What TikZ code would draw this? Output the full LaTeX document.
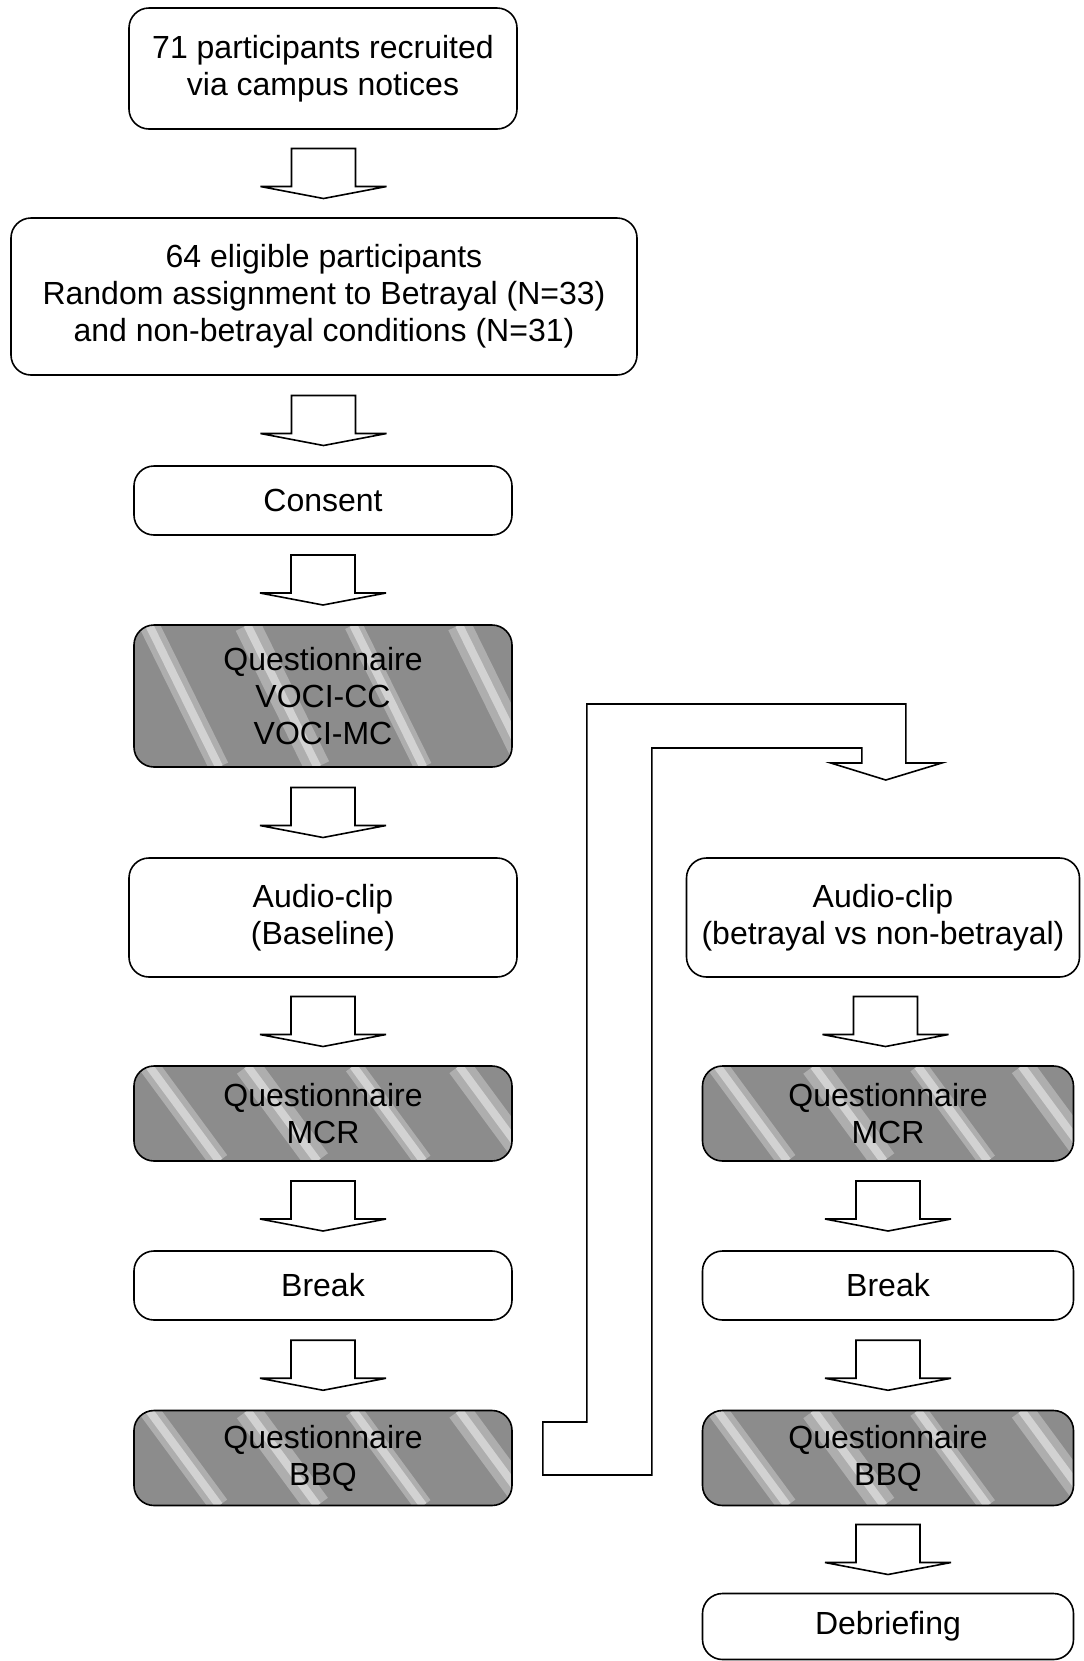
\documentclass[tikz,border=0pt]{standalone}
\usepackage{fontspec}
\setmainfont{Liberation Sans}
\usetikzlibrary{calc}
\begin{document}
\begin{tikzpicture}[x=0.5pt, y=-0.5pt,
	box/.style={draw, line width=0.8pt, rounded corners=10pt, align=center, inner sep=0pt,
		font=\fontsize{16pt}{18.5pt}\selectfont},
	qbox/.style={box, fill=black!45, path picture={
		\foreach \f/\w in {0.04/10pt,0.3/13pt,0.58/9pt,0.86/12pt} {
			\draw[white, opacity=.3, line width=\w]
				($(path picture bounding box.north west)!\f!(path picture bounding box.north east)$) --
				($(path picture bounding box.south west)!\f!(path picture bounding box.south east)+(70,0)$);
			\draw[white, opacity=.45, line width=4pt]
				($(path picture bounding box.north west)!\f!(path picture bounding box.north east)$) --
				($(path picture bounding box.south west)!\f!(path picture bounding box.south east)+(70,0)$);}}},
	arrowline/.style={draw, fill=white, line width=0.8pt, line join=miter},
	fatarrow/.pic={\draw[arrowline] (-32,-25) -- (32,-25) -- (32,13) -- (63,13) -- (0,25) -- (-63,13) -- (-32,13) -- cycle;}]
	\useasboundingbox (0,0) rectangle (1083,1661);

	% left column
	\node[box, minimum width=194pt, minimum height=60.5pt] (recruit) at (323,68.5) {71 participants recruited\\via campus notices};
	\node[box, minimum width=313pt, minimum height=78.5pt] (eligible) at (324,296.5) {64 eligible participants\\Random assignment to Betrayal (N=33)\\and non-betrayal conditions (N=31)};
	\node[box, minimum width=189pt, minimum height=34.5pt] (consent) at (323,500.5) {Consent};
	\node[qbox, minimum width=189pt, minimum height=71pt] (voci) at (323,696) {Questionnaire\\VOCI-CC\\VOCI-MC};
	\node[box, minimum width=194pt, minimum height=59.5pt] (audiobase) at (323,917.5) {Audio-clip\\(Baseline)};
	\node[qbox, minimum width=189pt, minimum height=47.5pt] (mcrbase) at (323,1113.5) {Questionnaire\\MCR};
	\node[box, minimum width=189pt, minimum height=34.5pt] (breakbase) at (323,1285.5) {Break};
	\node[qbox, minimum width=189pt, minimum height=47.5pt] (bbqbase) at (323,1458) {Questionnaire\\BBQ};

	% right column
	\node[box, minimum width=196.5pt, minimum height=59.5pt] (audiobet) at (883,917.5) {Audio-clip\\(betrayal vs non-betrayal)};
	\node[qbox, minimum width=185.5pt, minimum height=47.5pt] (mcrbet) at (888,1113.5) {Questionnaire\\MCR};
	\node[box, minimum width=185.5pt, minimum height=34.5pt] (breakbet) at (888,1285.5) {Break};
	\node[qbox, minimum width=185.5pt, minimum height=47.5pt] (bbqbet) at (888,1458) {Questionnaire\\BBQ};
	\node[box, minimum width=185.5pt, minimum height=33pt] (debrief) at (888,1626.5) {Debriefing};

	\pic at ($(recruit.south)!.5!(eligible.north)$) {fatarrow};
	\pic at ($(eligible.south)!.5!(consent.north)$) {fatarrow};
	\pic at ($(consent.south)!.5!(voci.north)$) {fatarrow};
	\pic at ($(voci.south)!.5!(audiobase.north)$) {fatarrow};
	\pic at ($(audiobase.south)!.5!(mcrbase.north)$) {fatarrow};
	\pic at ($(mcrbase.south)!.5!(breakbase.north)$) {fatarrow};
	\pic at ($(breakbase.south)!.5!(bbqbase.north)$) {fatarrow};
	\pic at ($(audiobet.south)!.5!(mcrbet.north)$) {fatarrow};
	\pic at ($(mcrbet.south)!.5!(breakbet.north)$) {fatarrow};
	\pic at ($(breakbet.south)!.5!(bbqbet.north)$) {fatarrow};
	\pic at ($(bbqbet.south)!.5!(debrief.north)$) {fatarrow};

	% bent arrow to the betrayal branch
	\draw[arrowline] ($(bbqbase.east)+(30,-36)$) -- ++(44,0) -- ++(0,-718) -- ++(319,0) -- ++(0,59) -- ++(36,0)
		-- ++(-56,17) -- ++(-55,-17) -- ++(31,0) -- ++(0,-15) -- ++(-210,0) -- ++(0,727) -- ++(-109,0) -- cycle;
\end{tikzpicture}
\end{document}
